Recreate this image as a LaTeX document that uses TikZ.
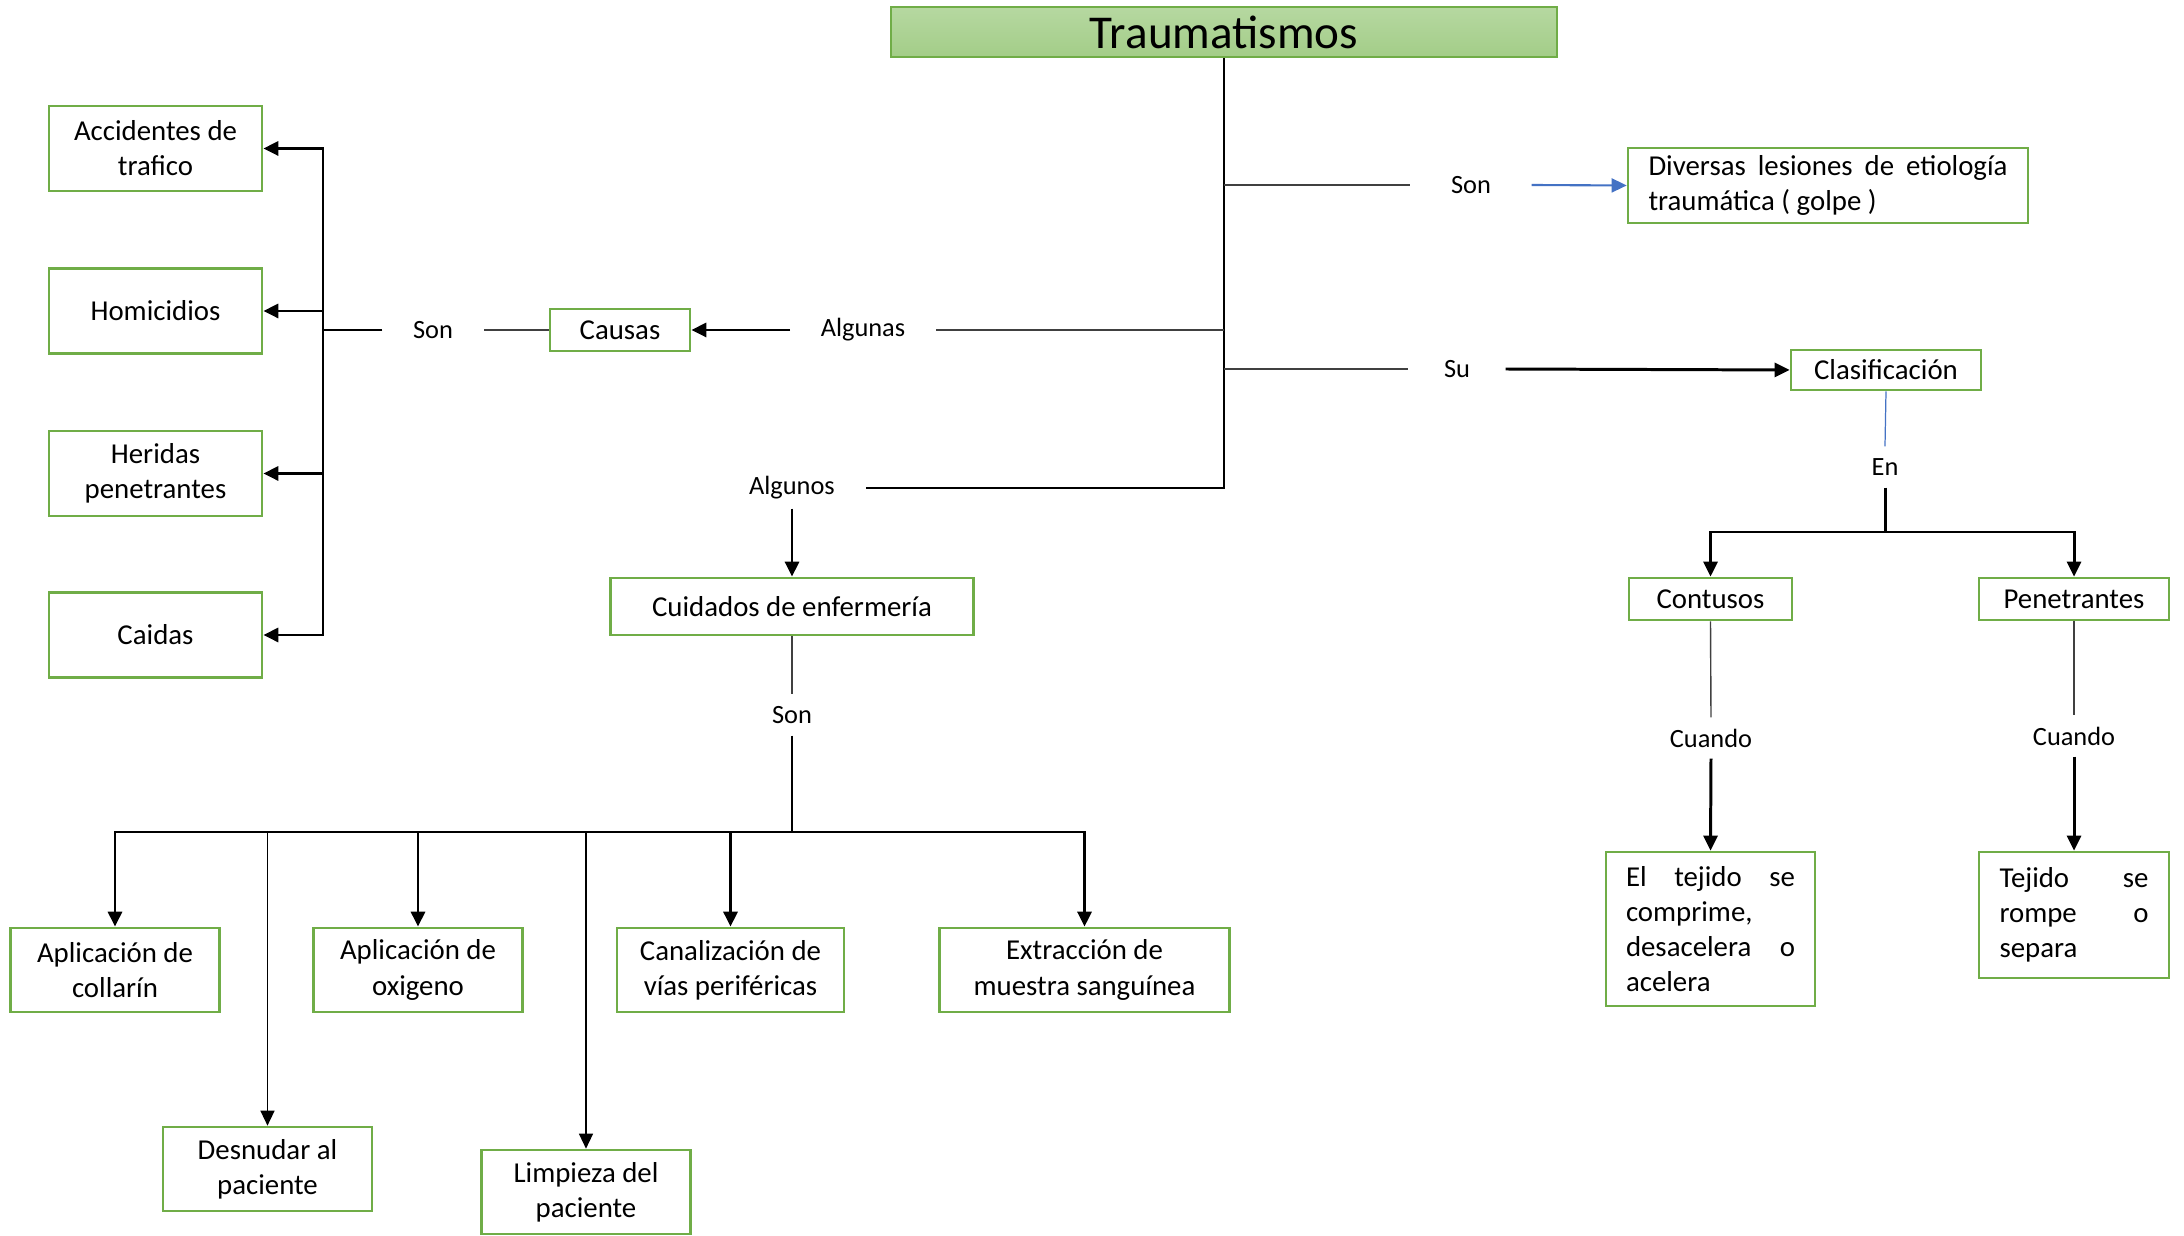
\documentclass[tikz,border=0pt]{standalone}
\usepackage{fontspec}
\setmainfont{Carlito}
\usetikzlibrary{arrows.meta}
\definecolor{boxgreen}{HTML}{70AD47}
\definecolor{titletop}{HTML}{B6D8A1}
\definecolor{titlebot}{HTML}{A3CD88}
\definecolor{linegray}{HTML}{404040}
\definecolor{linkblue}{HTML}{4472C4}
\newcommand{\boxtxt}{\fontsize{8.2}{10}\selectfont}
\newcommand{\lbltxt}{\fontsize{7.5}{9}\selectfont}
\newcommand{\titletxt}{\fontsize{13.4}{16}\selectfont}
\tikzset{
  box/.style={draw=boxgreen, line width=0.75pt, inner sep=0pt, align=center, font=\boxtxt},
  lbl/.style={inner xsep=0.3cm, inner ysep=0pt, minimum height=0.4cm, font=\lbltxt},
  link/.style={draw=linegray, line width=0.4pt},
  trunkline/.style={draw=black, line width=0.6pt},
  thickline/.style={draw=black, line width=0.85pt},
  arrow/.style={-{Triangle[length=4.3pt,width=4pt]}, line width=0.85pt},
  thinarrow/.style={-{Triangle[length=4.3pt,width=4pt]}, line width=0.45pt},
}
\begin{document}
\begin{tikzpicture}
\useasboundingbox (0,0) rectangle (21.84,-12.36);
% title
\node[box, font=\titletxt, top color=titletop, bottom color=titlebot, minimum width=6.66cm, minimum height=0.5cm] (trauma) at (12.24,-0.32) {Traumatismos};
% right branch
\node[lbl, inner xsep=0.4cm] (son1) at (14.71,-1.85) {Son};
\node[box, minimum width=4cm, minimum height=0.75cm, text width=3.59cm, align=justify] (diversas) at (18.28,-1.855) {Diversas lesiones de etiología traumática ( golpe )};
\node[lbl, inner xsep=0.35cm] (su) at (14.57,-3.69) {Su};
\node[box, minimum width=1.9cm, minimum height=0.4cm] (clasif) at (18.86,-3.70) {Clasificación};
\node[lbl] (en) at (18.85,-4.67) {En};
\coordinate (enbus) at (18.85,-5.32);
\node[box, minimum width=1.63cm, minimum height=0.42cm] (contusos) at (17.105,-5.99) {Contusos};
\node[box, minimum width=1.9cm, minimum height=0.42cm] (penet) at (20.74,-5.99) {Penetrantes};
\node[lbl] (cuando1) at (17.11,-7.38) {Cuando};
\node[lbl] (cuando2) at (20.74,-7.36) {Cuando};
\node[box, minimum width=2.09cm, minimum height=1.54cm, text width=1.69cm, align=left] (tejido1) at (17.105,-9.29) {El\hfill tejido\hfill se\\comprime,\\desacelera\hfill o\\acelera};
\node[box, minimum width=1.9cm, minimum height=1.26cm, text width=1.49cm, align=left] (tejido2) at (20.74,-9.15) {Tejido\hfill se\\rompe\hfill o\\separa};
% causes
\node[lbl] (algunas) at (8.63,-3.30) {Algunas};
\node[box, minimum width=1.4cm, minimum height=0.42cm] (causas) at (6.20,-3.30) {Causas};
\node[lbl] (son2) at (4.33,-3.30) {Son};
\coordinate (cbus) at (3.23,-3.30);
\node[box, minimum width=2.13cm, minimum height=0.85cm] (accid) at (1.555,-1.485) {Accidentes de\\trafico};
\node[box, minimum width=2.13cm, minimum height=0.85cm] (homic) at (1.555,-3.11) {Homicidios};
\node[box, minimum width=2.13cm, minimum height=0.85cm] (heridas) at (1.555,-4.735) {Heridas\\penetrantes};
\node[box, minimum width=2.13cm, minimum height=0.85cm] (caidas) at (1.555,-6.35) {Caidas};
% nursing care
\node[lbl] (algunos) at (7.92,-4.88) {Algunos};
\node[box, minimum width=3.63cm, minimum height=0.57cm] (cuidados) at (7.92,-6.065) {Cuidados de enfermería};
\node[lbl] (son3) at (7.92,-7.15) {Son};
\coordinate (sbus) at (7.92,-8.32);
\node[box, minimum width=2.09cm, minimum height=0.84cm] (collarin) at (1.15,-9.70) {Aplicación de\\collarín};
\node[box, minimum width=2.09cm, minimum height=0.84cm] (oxigeno) at (4.18,-9.70) {Aplicación de\\oxigeno};
\node[box, minimum width=2.27cm, minimum height=0.84cm] (canal) at (7.305,-9.70) {Canalización de\\vías periféricas};
\node[box, minimum width=2.90cm, minimum height=0.84cm] (extrac) at (10.845,-9.70) {Extracción de\\muestra sanguínea};
\node[box, minimum width=2.09cm, minimum height=0.84cm] (desnudar) at (2.675,-11.69) {Desnudar al\\paciente};
\node[box, minimum width=2.09cm, minimum height=0.84cm] (limpieza) at (5.86,-11.92) {Limpieza del\\paciente};
% connectors
\draw[trunkline] (trauma.south) -- (trauma.south |- algunos.east) -- (algunos.east);
\draw[link] (trauma.south |- son1) -- (son1.west);
\draw[-{Triangle[length=4.3pt,width=4pt]}, linkblue, line width=0.6pt] (son1.east) -- (diversas.west);
\draw[link] (trauma.south |- su) -- (su.west);
\draw[arrow] (su.east) -- (clasif.west);
\draw[linkblue, line width=0.35pt] (clasif.south) -- (en.north);
\draw[thickline] (en.south) -- (enbus);
\draw[arrow] (enbus) -| (contusos.north);
\draw[arrow] (enbus) -| (penet.north);
\draw[link] (contusos.south) -- (cuando1.north);
\draw[arrow] (cuando1.south) -- (tejido1.north);
\draw[link] (penet.south) -- (cuando2.north);
\draw[arrow] (cuando2.south) -- (tejido2.north);
\draw[link] (trauma.south |- algunas) -- (algunas.east);
\draw[arrow] (algunas.west) -- (causas.east);
\draw[link] (causas.west) -- (son2.east);
\draw[thickline] (son2.west) -- (cbus);
\draw[arrow] (cbus) |- (accid.east);
\draw[arrow] (cbus) |- (homic.east);
\draw[arrow] (cbus) |- (heridas.east);
\draw[arrow] (cbus) |- (caidas.east);
\draw[arrow] (algunos.south) -- (cuidados.north);
\draw[link] (cuidados.south) -- (son3.north);
\draw[thickline] (son3.south) -- (sbus);
\draw[arrow] (sbus) -| (collarin.north);
\draw[arrow] (sbus) -| (oxigeno.north);
\draw[arrow] (sbus) -| (canal.north);
\draw[arrow] (sbus) -| (extrac.north);
\draw[thinarrow] (sbus) -| (desnudar.north);
\draw[thinarrow] (sbus) -| (limpieza.north);
\end{tikzpicture}
\end{document}
